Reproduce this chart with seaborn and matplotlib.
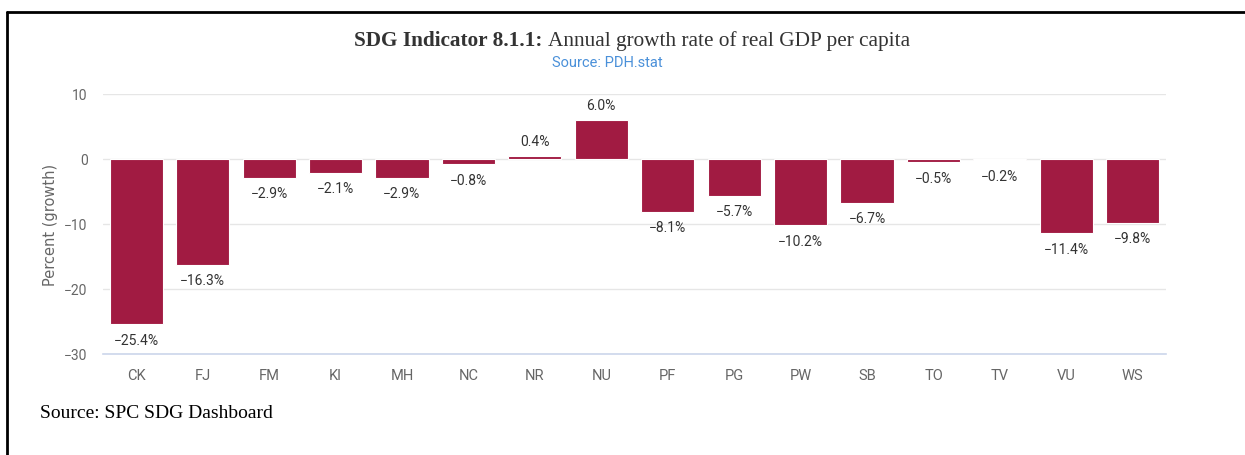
import matplotlib.pyplot as plt
import seaborn as sns
from matplotlib.lines import Line2D

# Data
countries = ['CK', 'FJ', 'FM', 'KI', 'MH', 'NC', 'NR', 'NU',
             'PF', 'PG', 'PW', 'SB', 'TO', 'TV', 'VU', 'WS']
growth = [-25.4, -16.3, -2.9, -2.1, -2.9, -0.8, 0.4, 6.0,
          -8.1, -5.7, -10.2, -6.7, -0.5, -0.2, -11.4, -9.8]
y_ticks = [10, 0, -10, -20, -30]

sns.set_style("white")
narrow = ['Roboto', 'DejaVu Sans']

fig = plt.figure(figsize=(12.45, 4.56), dpi=100)
ax = fig.add_axes([103 / 1245, 1 - 355 / 456, (1166 - 103) / 1245, 260 / 456])

sns.barplot(x=countries, y=growth, color='#A11B42', saturation=1,
            width=0.8, edgecolor='white', linewidth=0.8, ax=ax)

ax.set_ylim(-30, 10)
ax.set_xlim(-0.5, len(countries) - 0.5)
ax.set_yticks(y_ticks)
ax.set_yticklabels([str(t).replace('-', '\u2212') for t in y_ticks])
ax.grid(axis='y', color='#e6e6e6', linewidth=1)
ax.set_axisbelow(True)
for s in ['top', 'right', 'left']:
    ax.spines[s].set_visible(False)
ax.spines['bottom'].set_color('#ccd6eb')
ax.spines['bottom'].set_linewidth(1.2)
ax.tick_params(axis='both', length=0, colors='#666666', labelsize=10.5)
ax.tick_params(axis='y', labelsize=10)
for lab in ax.get_xticklabels() + ax.get_yticklabels():
    lab.set_family(narrow)
ax.tick_params(axis='x', pad=10)
ax.tick_params(axis='y', pad=11)
ax.set_ylabel('Percent (growth)', color='#666666', fontsize=10.5)
ax.yaxis.set_label_coords(-45 / 1063, 0.5)
ax.set_xlabel('')

# data labels
for i, v in enumerate(growth):
    txt = f'{v:.1f}%'.replace('-', '\u2212')
    if v >= 0:
        ax.text(i, v + 1.3, txt, ha='center', va='bottom', fontsize=10,
                color='#333333', family=narrow)
    else:
        ax.text(i, v - 1.3, txt, ha='center', va='top', fontsize=10,
                color='#333333', family=narrow)

# title
fig.text(548 / 1245, 1 - 41 / 456, 'SDG Indicator 8.1.1: ', ha='right', va='center',
         fontsize=15.3, fontweight='bold', family='Liberation Serif', color='#333333')
fig.text(548 / 1245, 1 - 41 / 456, 'Annual growth rate of real GDP per capita', ha='left',
         va='center', fontsize=15.3, family='Liberation Serif', color='#333333')
fig.text(607 / 1245, 1 - 63 / 456, 'Source: PDH.stat', ha='center', va='center',
         fontsize=10.5, color='#4a90d9', family=narrow)

fig.text(40 / 1245, 1 - 414 / 456, 'Source: SPC SDG Dashboard', ha='left', va='center',
         fontsize=14, family='Liberation Serif', color='black')

# frame lines
fig.add_artist(Line2D([7 / 1245, 1], [1 - 13 / 456] * 2, color='black', lw=2))
fig.add_artist(Line2D([7 / 1245] * 2, [0, 1 - 13 / 456], color='black', lw=2))

plt.savefig('out.png', dpi=100)
